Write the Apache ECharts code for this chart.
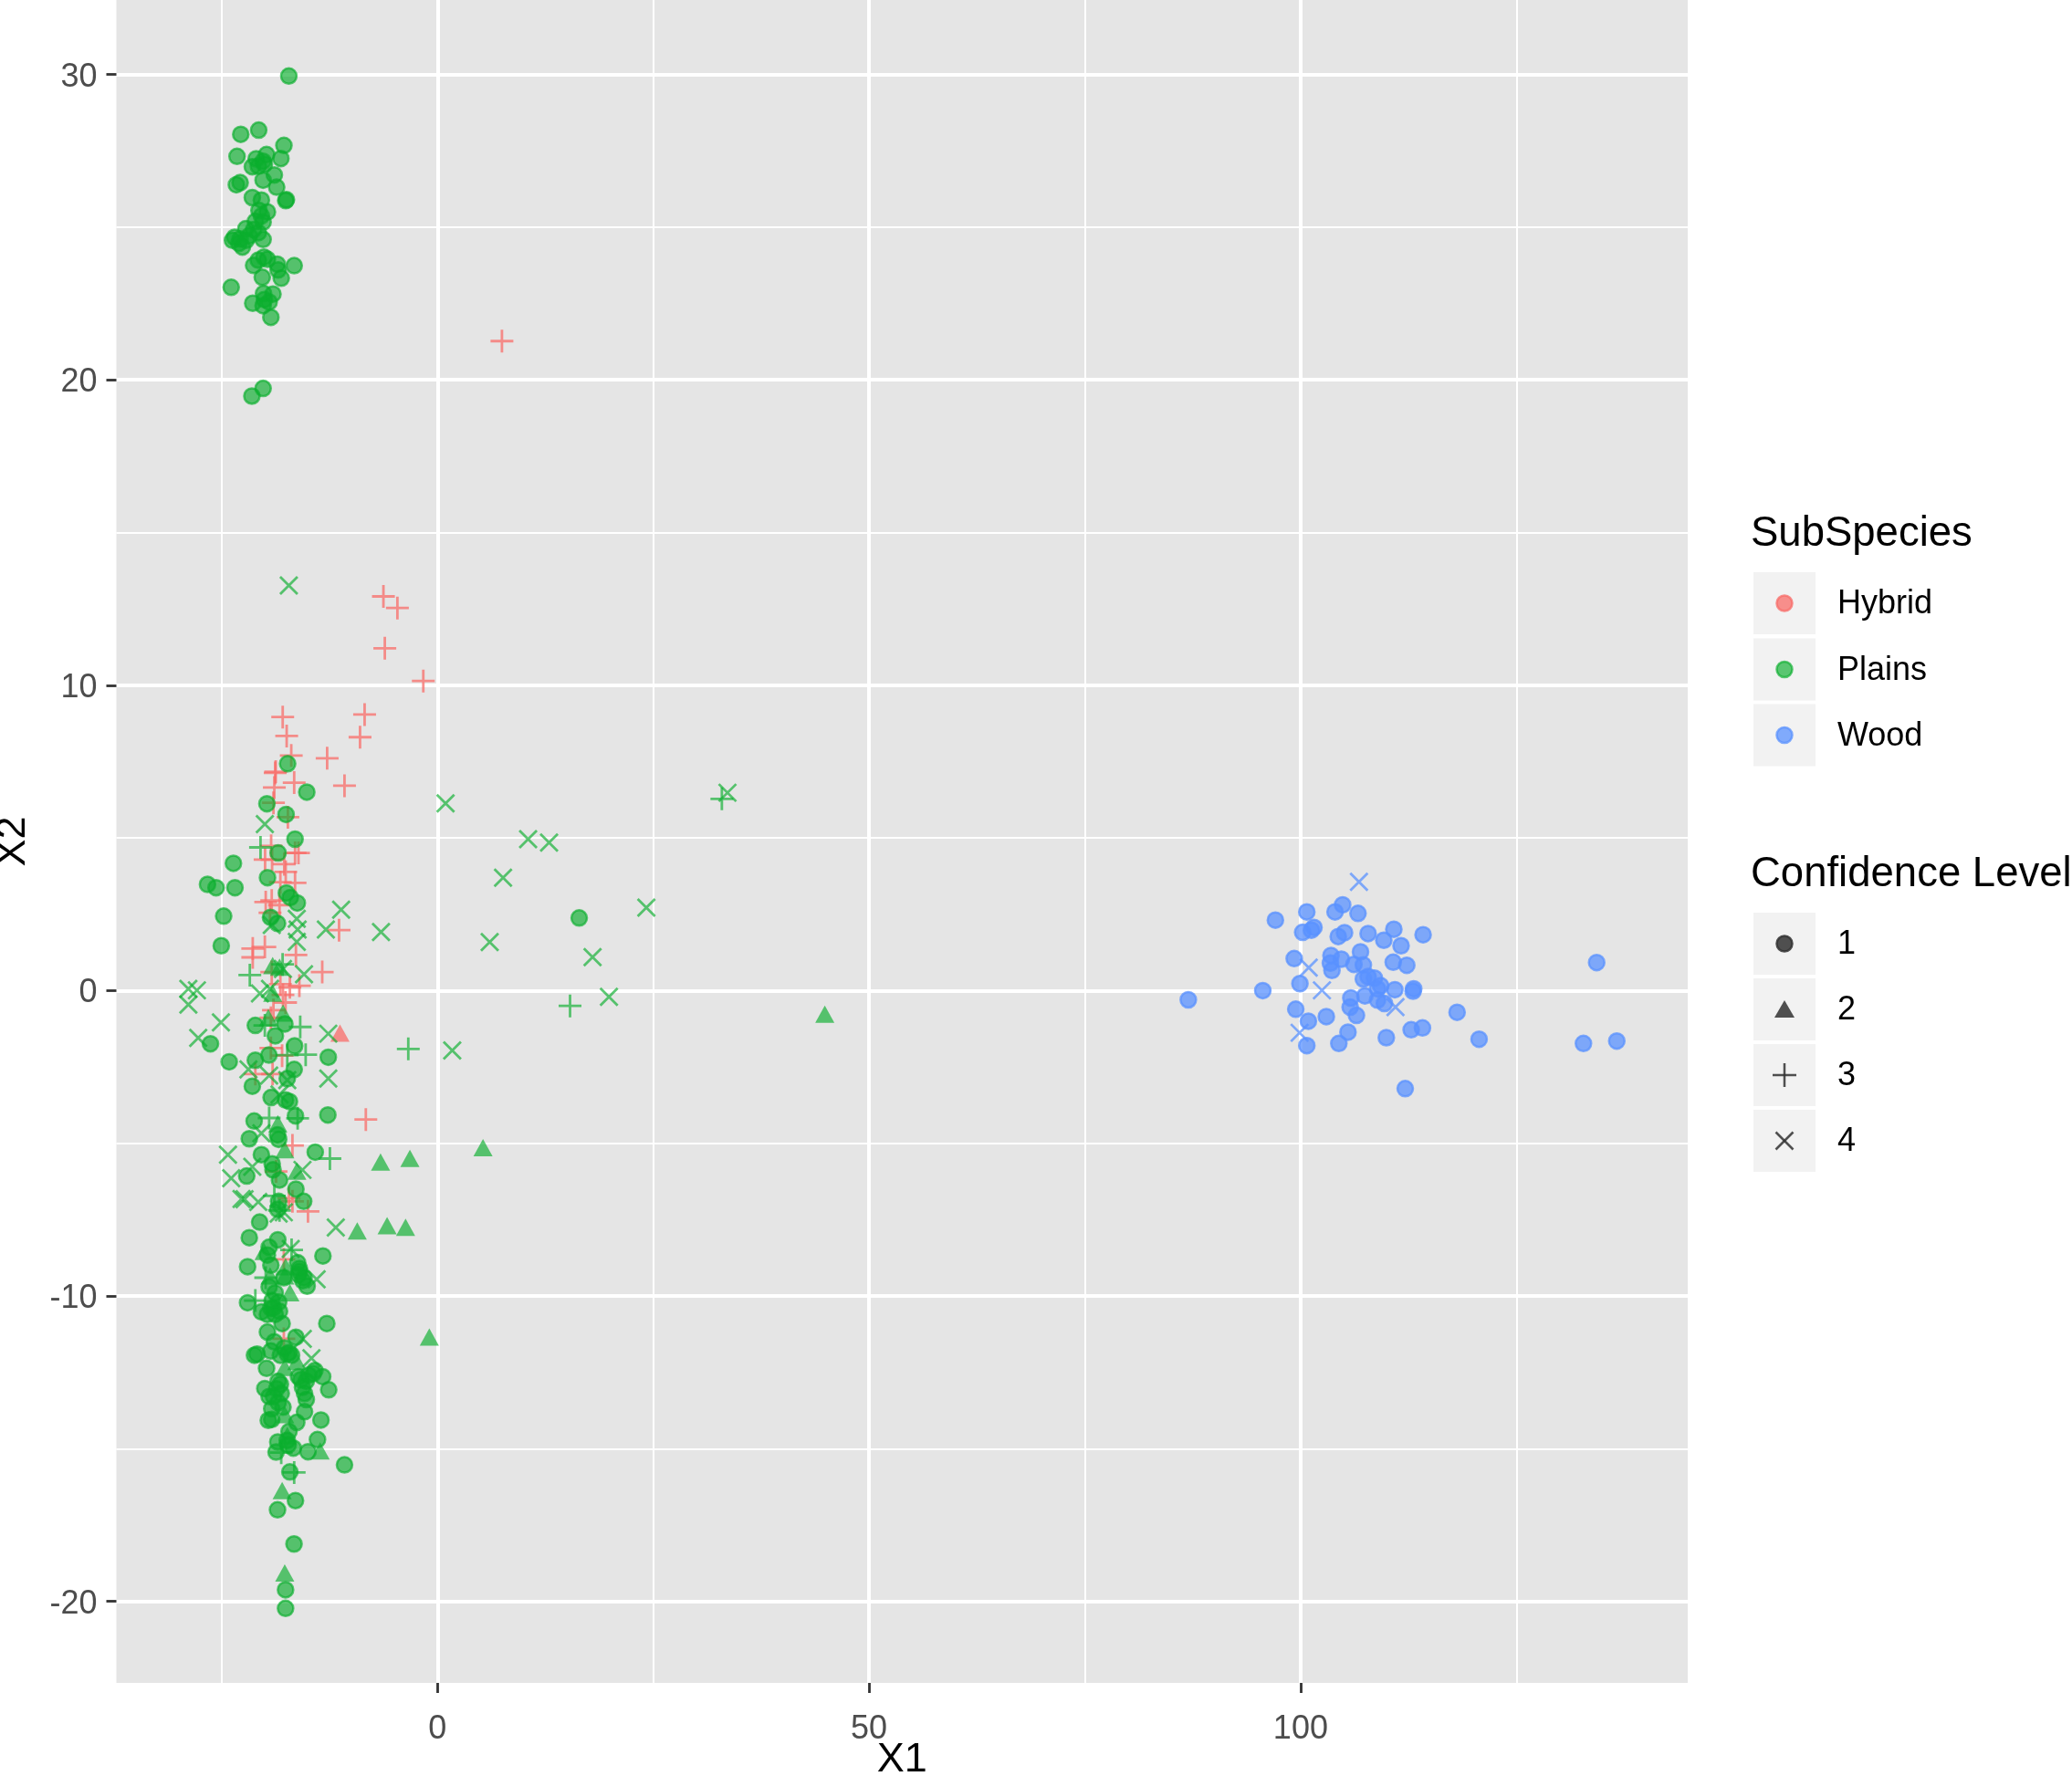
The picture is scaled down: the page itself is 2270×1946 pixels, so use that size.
<!DOCTYPE html>
<html>
<head>
<meta charset="utf-8">
<title>X1 X2 scatter</title>
<style>
html, body { margin: 0; padding: 0; background: #fff; overflow: hidden; }
#main { width: 2270px; height: 1946px; }
</style>
<script src="https://cdn.jsdelivr.net/npm/echarts@6/dist/echarts.min.js"></script>
</head>
<body>
<div id="main"></div>
<script>
var xMajor = [0, 50, 100];
var xMinor = [-25, 25, 75, 125];
var yMajor = [-20, -10, 0, 10, 20, 30];
var yMinor = [-15, -5, 5, 15, 25];
var subSpecies = ['Hybrid', 'Plains', 'Wood'];
var confidence = ['1', '2', '3', '4'];

var hybridPlus = [[7.47,21.27],[-6.26,12.91],[-4.64,12.53],[-6.1,11.21],[-1.64,10.14],[-17.93,8.96],[-17.47,8.34],[-16.94,7.7],[-8.44,9.04],[-8.97,8.3],[-12.78,7.61],[-10.77,6.71],[-18.74,7.17],[-18.8,7.13],[-16.6,6.81],[-18.9,6.65],[-19,6.15],[-17.33,5.68],[-19.27,4.74],[-19.97,4.29],[-19.16,4.29],[-17.75,4.14],[-16.1,4.51],[-16.5,4.51],[-17.58,3.89],[-16.5,3.53],[-18.2,3.55],[-19.2,2.95],[-19.9,2.9],[-19.4,2.55],[-18.3,2.8],[-11.4,1.98],[-21.4,1.38],[-20,1.43],[-21.4,1.09],[-16.4,1.17],[-19.2,0.61],[-13.35,0.61],[-18.2,0.21],[-16,0.16],[-17.1,0.11],[-17.9,-0.14],[-17.6,-0.39],[-19,-0.64],[-19.3,-0.89],[-19.3,-1.88],[-18,-2.13],[-21.1,-2.73],[-19.1,-2.73],[-8.3,-4.22],[-16.8,-5.07],[-18.7,-5.92],[-15,-7.23],[-16.8,-6.9],[-17.8,-8.8],[-17.8,-11.4],[-17.2,-6.8]];
var hybridTriangle = [[-11.4,-1.45]];

var plainsCircle = [[-17.22,29.95],[-22.79,28.04],[-20.71,28.18],[-17.79,27.68],[-23.22,27.32],[-18.14,27.25],[-19.8,27.38],[-21,27.24],[-20.2,27.16],[-21.45,26.98],[-20.75,27],[-20.05,27.06],[-18.9,26.71],[-20.2,26.54],[-22.86,26.46],[-23.3,26.39],[-18.63,26.31],[-17.58,25.87],[-17.5,25.9],[-21.45,25.97],[-20.4,25.89],[-19.7,25.5],[-20.68,25.55],[-20.4,25.37],[-21.1,25.19],[-20.2,25.17],[-22.2,24.95],[-21.3,24.92],[-20.75,24.82],[-23.5,24.67],[-23.75,24.57],[-22.86,24.62],[-21.8,24.72],[-20.2,24.6],[-23,24.47],[-22.6,24.35],[-22.16,24.57],[-20.1,24.02],[-19.7,23.95],[-21.3,23.75],[-20.76,23.92],[-18.56,23.79],[-16.6,23.74],[-18.46,23.6],[-18.1,23.33],[-20.3,23.36],[-23.9,23.03],[-20.15,22.83],[-19.06,22.81],[-20.05,22.63],[-19.5,22.55],[-21.4,22.51],[-20.2,22.43],[-19.3,22.05],[-20.2,19.72],[-21.5,19.47],
  [-17.36,7.43],[-15.14,6.5],[-19.76,6.12],[-17.54,5.77],[-16.5,4.96],[-18.46,4.51],[-23.64,4.17],
  [-26.64,3.48],[-25.65,3.37],[-23.46,3.37],[-19.69,3.7],[-17.5,3.2],[-16.24,2.87],[-17.05,3.05],[-24.77,2.44],[-19.34,2.4],[-18.53,2.2],[-25.05,1.47],[-21.1,-1.14],[-17.68,-1.09],[-18.78,-1.48],[-16.55,-1.81],[-26.3,-1.74],[-24.13,-2.33],[-21.1,-2.28],[-19.53,-2.11],[-12.65,-2.18],[-16.6,-2.58],[-17.4,-2.88],[-21.45,-3.13],[-19.27,-3.5],[-17.6,-3.58],[-17.15,-3.63],[-16.45,-4.1],[-12.7,-4.07],[-21.24,-4.27],[-18.53,-4.72],[-18.4,-4.87],[-21.8,-4.85],[-14.16,-5.29],[-20.4,-5.37],[-19.15,-5.67],[-19.05,-5.87],[-22.1,-6.07],[-18.3,-6.2],[-16.4,-6.5],[16.42,2.38],
  [-15.5,-6.9],[-18.4,-6.9],[-18.5,-7.16],[-20.6,-7.58],[-21.8,-8.09],[-18.5,-8.16],[-19.5,-8.4],[-19.7,-8.66],[-19.3,-8.99],[-22,-9.04],[-13.27,-8.69],[-16.2,-8.91],[-16,-9.1],[-16.1,-9.3],[-15.6,-9.5],[-15.1,-9.68],[-17.8,-9.4],[-19.5,-9.7],[-18.8,-9.9],[-18.4,-10.2],[-22,-10.22],[-20.4,-10.52],[-19.7,-10.6],[-19,-10.4],[-18.3,-10.5],[-18,-10.9],[-12.82,-10.9],[-19.7,-11.18],[-18.9,-11.5],[-16.4,-11.35],[-19.3,-11.8],[-21.2,-11.94],[-20.9,-11.9],[-19.8,-12.37],[-18.2,-11.94],[-17.2,-11.85],[-16.9,-11.94],[-14.2,-12.44],[-13.3,-12.64],[-16.1,-12.64],[-15.2,-12.79],[-12.6,-13.07],[-20,-13.03],[-18.2,-12.89],[-18.1,-13.19],[-19.5,-13.29],[-15.4,-13.19],[-15.2,-13.39],[-17.9,-13.64],[-19.2,-13.69],[-15.4,-13.79],[-19.6,-14.07],[-19.2,-14.04],[-13.5,-14.06],[-16.3,-14.14],[-17.2,-14.44],[-18.5,-14.78],[-13.9,-14.7],[-17.3,-14.88],[-16.7,-14.98],[-18.7,-15.11],[-15,-15.1],[-10.77,-15.53],[-17.1,-15.76],[-16.45,-16.7],[-18.53,-17],[-16.62,-18.12],[-17.6,-19.62],[-17.6,-20.23],
  [-19.16,-10.15],[-19.3,-10.4],[-18.8,-10.6],[-17.4,-11.9],[-17.75,-11.7],[-18.46,-12.79],[-18.63,-13.04],[-18.99,-13.29],[-18.46,-13.49],[-15.81,-12.74],[-14.93,-12.59],[-14.4,-12.54],[-15.64,-12.99],[-15.99,-9.2],[-15.46,-9.4],[-17.4,-14.73]];
var plainsTriangle = [[44.77,-0.83],[5.17,-5.2],[-19.2,0.76],[-18.4,0.71],[-19.2,-0.14],[-18,-0.79],[-19.7,-0.94],[-18.6,-4.42],[-17.8,-5.27],[-16.4,-5.97],[-6.7,-5.67],[-3.3,-5.55],[-9.4,-7.93],[-5.94,-7.76],[-3.8,-7.81],[-1.05,-11.4],[-13.7,-15.13],[-18.1,-16.43],[-17.8,-19.13],[-20.2,-8.6],[-19.5,-9.4],[-17.2,-9.95],[-17.5,-14.63],[-17.8,-13.94],[-17.8,-12.4],[-16.4,-12.2],[-17.7,-9.1],[-17.8,-9.4]];
var plainsPlus = [[-20.5,4.69],[-21.74,0.51],[-17.94,0.86],[-15.9,-1.19],[-15.27,-2.1],[-3.38,-1.91],[-19.5,-4.17],[-16.2,-4.18],[-12.46,-5.5],[-17.4,-2.11],[-20,-1.14],[32.95,6.28],[15.36,-0.5],[-18.9,-6.72],[-19.9,-9.4],[-21.1,-10.15],[-16.9,-8.49],[-18.1,-15.13],[-16.6,-15.78],[-18.3,-7.2]];
var plainsCross = [[-17.22,13.27],[-20,5.45],[-11.16,2.65],[-12.93,2],[-6.54,1.92],[-16.2,2],[-16.3,2.35],[-16.3,1.6],[-19.2,2.15],[-15.46,0.54],[-17.9,0.71],[-28.86,0.06],[-27.87,0.01],[-28.86,-0.46],[-25.09,-1.04],[-27.72,-1.55],[-20.57,-0.09],[-19.4,0.06],[-12.65,-1.41],[-12.65,-2.88],[-21.9,-2.58],[-19.5,-2.78],[-17.4,-2.93],[-18.3,-3.4],[-20.4,-4.67],[-24.27,-5.37],[-21.45,-5.77],[-23.9,-6.14],[-15.64,-5.87],[-22.7,-6.82],[-22.35,-6.83],[-20.76,-6.92],[-17.8,-7.26],[-11.78,-7.76],[-14,-9.45],[-15.6,-11.4],[-14.6,-12.04],[-18.4,-7.3],[-17,-8.46],[0.94,6.13],[10.5,4.96],[12.93,4.85],[7.6,3.7],[24.2,2.72],[6.05,1.59],[17.97,1.1],[19.87,-0.2],[1.71,-1.96],[33.6,6.48]];

var woodCircle = [[86.99,-0.3],[95.62,0],[97.08,2.31],[100.72,2.58],[100.24,1.91],[101.26,1.98],[101.55,2.07],[99.26,1.05],[99.92,0.23],[99.44,-0.61],[100.9,-1],[100.72,-1.8],[102.98,-0.85],[104.87,2.81],[103.99,2.58],[106.65,2.53],[105.09,1.9],[104.36,1.77],[107.82,1.87],[110.8,2.01],[109.64,1.65],[111.64,1.47],[114.19,1.83],[106.94,1.27],[103.52,1.15],[104.72,1.03],[103.45,0.9],[103.63,0.66],[106.18,0.86],[107.27,0.84],[110.73,0.93],[112.3,0.83],[107.27,0.38],[107.82,0.46],[108.55,0.41],[109.28,0.16],[108.91,0.06],[110.92,0.03],[113.1,0.06],[113.03,-0.02],[105.82,-0.24],[107.45,-0.17],[108.91,-0.31],[109.71,-0.42],[105.74,-0.54],[106.47,-0.81],[105.49,-1.36],[104.43,-1.73],[109.93,-1.54],[112.81,-1.28],[114.12,-1.22],[118.13,-0.71],[120.68,-1.59],[112.12,-3.21],[134.3,0.92],[132.77,-1.73],[136.63,-1.65]];
var woodCross = [[106.76,3.56],[100.94,0.75],[102.47,0.01],[110.99,-0.54],[99.88,-1.38]];

var FONT = 'Liberation Sans';
var RED = 'rgba(248,108,104,0.75)';
var GREEN = 'rgba(10,175,45,0.66)';
var BLUE = 'rgba(90,146,255,0.75)';
var GREY = 'rgba(51,51,51,0.85)';
var PLUS = 'path://M0 50L100 50M50 0L50 100';
var CROSS = 'path://M0 0L100 100M100 0L0 100';

function circleSeries(name, data, color) {
  return { name: name, type: 'scatter', data: data, symbol: 'circle', symbolSize: 17,
    itemStyle: { color: color, borderColor: color, borderWidth: 2.5, opacity: 1 } };
}
function triangleSeries(name, data, color) {
  return { name: name, type: 'scatter', data: data, symbol: 'triangle', symbolSize: [21, 19], symbolOffset: [1, -2],
    itemStyle: { color: color, opacity: 1 } };
}
function lineSeries(name, data, color, symbol, size) {
  return { name: name, type: 'scatter', data: data, symbol: symbol, symbolSize: size,
    itemStyle: { color: 'none', borderColor: color, borderWidth: 2.8, opacity: 1 } };
}

var myChart = echarts.init(document.getElementById('main'));

// legend keys are drawn by hand, ggplot style
var keyX = 1921, keySize = 68, labelX = 2013;
var graphics = [];
function addTitle(text, y) {
  graphics.push({ type: 'text', left: 1918, top: y - 20, silent: true,
    style: { text: text, font: '45.5px "' + FONT + '"', fill: '#000' } });
}
function addKey(label, cy) {
  graphics.push({ type: 'rect', silent: true, shape: { x: keyX, y: cy - 34, width: keySize, height: keySize }, style: { fill: '#F2F2F2' } });
  graphics.push({ type: 'text', left: labelX, top: cy - 16.5, silent: true,
    style: { text: label, font: '36px "' + FONT + '"', fill: '#000' } });
}
function addCircle(cy, color) {
  graphics.push({ type: 'circle', silent: true, z: 10, shape: { cx: keyX + 34, cy: cy, r: 8.5 },
    style: { fill: color, stroke: color, lineWidth: 2.5 } });
}

addTitle('SubSpecies', 582);
var subY = [661, 733.5, 805.5];
var subColors = [RED, GREEN, BLUE];
subSpecies.forEach(function (s, i) {
  addKey(s, subY[i]);
  addCircle(subY[i], subColors[i]);
});

addTitle('Confidence Level', 955);
var confY = [1034, 1106, 1178, 1250];
confidence.forEach(function (s, i) {
  addKey(s, confY[i]);
});
var cx = keyX + 34;
addCircle(confY[0], GREY);
graphics.push({ type: 'polygon', silent: true, z: 10, shape: { points: [[cx - 11, confY[1] + 9], [cx + 11, confY[1] + 9], [cx, confY[1] - 10]] }, style: { fill: GREY } });
graphics.push({ type: 'line', silent: true, z: 10, shape: { x1: cx - 13, y1: confY[2], x2: cx + 13, y2: confY[2] }, style: { stroke: GREY, lineWidth: 2.5 } });
graphics.push({ type: 'line', silent: true, z: 10, shape: { x1: cx, y1: confY[2] - 13, x2: cx, y2: confY[2] + 13 }, style: { stroke: GREY, lineWidth: 2.5 } });
graphics.push({ type: 'line', silent: true, z: 10, shape: { x1: cx - 9.5, y1: confY[3] - 9.5, x2: cx + 9.5, y2: confY[3] + 9.5 }, style: { stroke: GREY, lineWidth: 2.5 } });
graphics.push({ type: 'line', silent: true, z: 10, shape: { x1: cx + 9.5, y1: confY[3] - 9.5, x2: cx - 9.5, y2: confY[3] + 9.5 }, style: { stroke: GREY, lineWidth: 2.5 } });

function majorAxis(pos, ticks, range, name, gap, margin) {
  return {
    type: 'value', position: pos, min: range[0], max: range[1],
    name: name, nameLocation: 'middle', nameGap: gap, nameMoveOverlap: false,
    nameTextStyle: { fontFamily: FONT, fontSize: 45, color: '#000' },
    axisLine: { show: false, onZero: false },
    axisTick: { show: true, length: 11, customValues: ticks, lineStyle: { color: '#333', width: 2.8 } },
    axisLabel: { show: true, margin: margin, customValues: ticks, showMinLabel: true, showMaxLabel: true,
      fontFamily: FONT, fontSize: 36, color: '#4D4D4D',
      formatter: function (v) { return '{v|' + v + '}'; },
      rich: { v: { fontFamily: FONT, fontSize: 36, color: '#4D4D4D', padding: pos === 'left' ? [6, 0, 0, 0] : 0 } } },
    splitLine: { show: true, lineStyle: { color: '#fff', width: 4 } }
  };
}
function minorAxis(pos, ticks, range) {
  return {
    type: 'value', position: pos, min: range[0], max: range[1],
    axisLine: { show: false, onZero: false },
    axisTick: { show: false, customValues: ticks },
    axisLabel: { show: false },
    splitLine: { show: true, lineStyle: { color: '#fff', width: 2 } }
  };
}

var xRange = [-37.2, 144.85];
var yRange = [-22.67, 32.44];

var option = {
  animation: false,
  backgroundColor: '#fff',
  textStyle: { fontFamily: FONT },
  grid: { left: 127.5, top: 0, width: 1721.5, height: 1844, outerBoundsMode: 'none', show: true, backgroundColor: '#E5E5E5', borderWidth: 0 },
  xAxis: [majorAxis('bottom', xMajor, xRange, 'X1', 62, 33), minorAxis('bottom', xMinor, xRange)],
  yAxis: [majorAxis('left', yMajor, yRange, 'X2', 90, 21), minorAxis('left', yMinor, yRange)],
  graphic: graphics,
  series: [
    lineSeries('Hybrid 3', hybridPlus, RED, PLUS, 25),
    triangleSeries('Hybrid 2', hybridTriangle, RED),
    lineSeries('Plains 4', plainsCross, GREEN, CROSS, 19),
    lineSeries('Plains 3', plainsPlus, GREEN, PLUS, 25),
    triangleSeries('Plains 2', plainsTriangle, GREEN),
    circleSeries('Plains 1', plainsCircle, GREEN),
    circleSeries('Wood 1', woodCircle, BLUE),
    lineSeries('Wood 4', woodCross, BLUE, CROSS, 19)
  ]
};
myChart.setOption(option);
</script>
</body>
</html>
